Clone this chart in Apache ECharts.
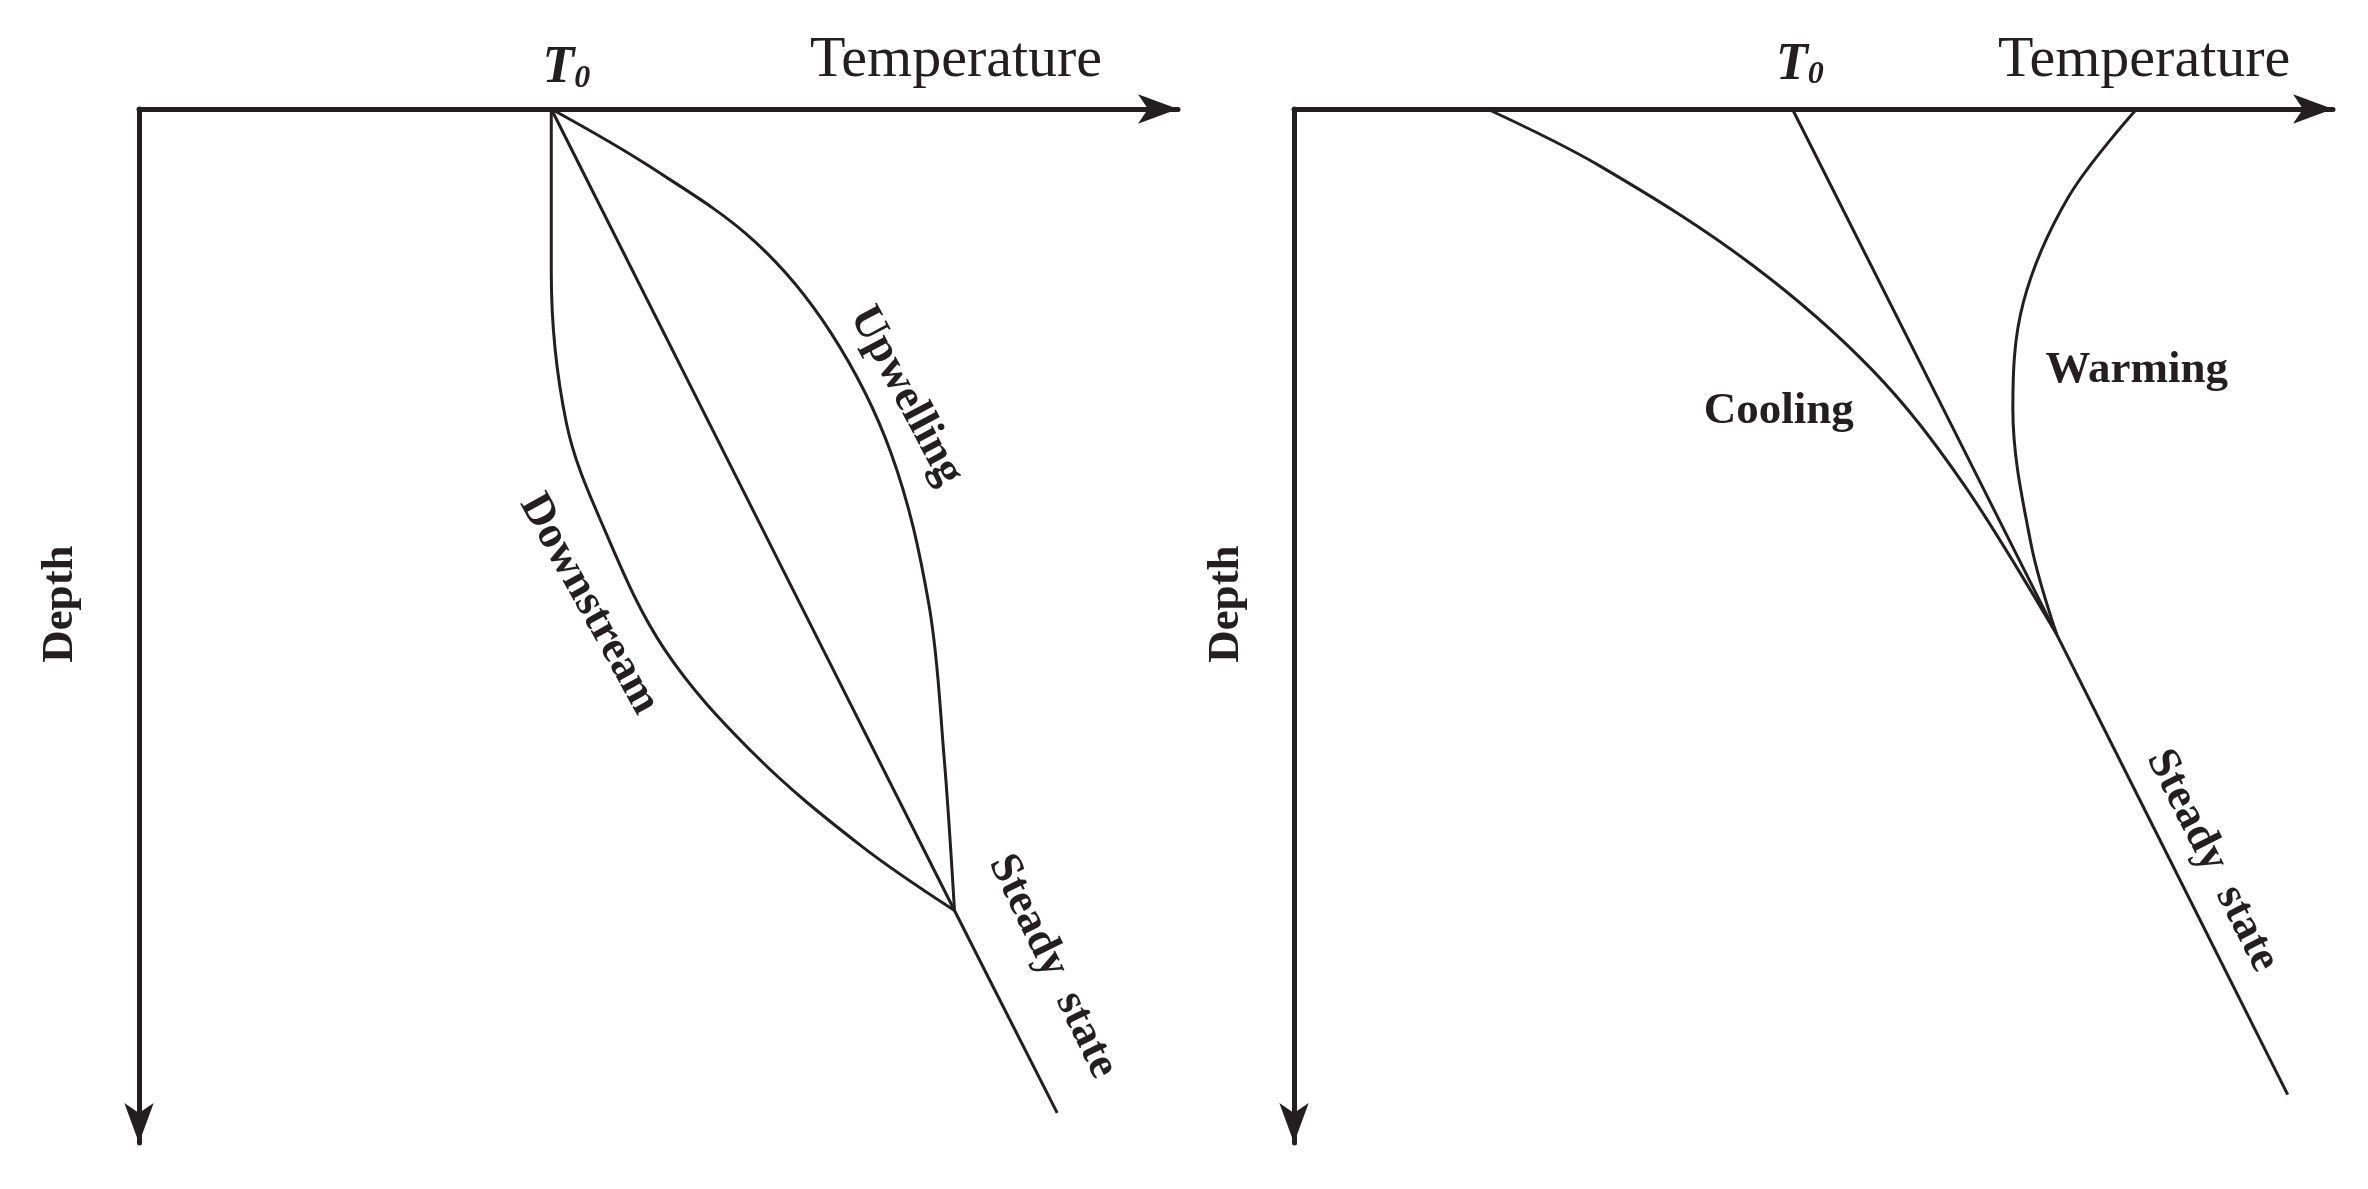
<!DOCTYPE html>
<html><head><meta charset="utf-8">
<script src="https://cdn.jsdelivr.net/npm/echarts@6/dist/echarts.min.js"></script>
<style>html,body{margin:0;background:#fff}#c{width:2368px;height:1189px}</style>
</head><body><div id="c"></div>
<script>
// curves in panel units: [temperature, depth] measured from each panel's origin
const leftSteady = [[273, 0], [540, 531], [608, 665]];
const leftUpwelling = [[273, 0], [338, 38], [408, 88], [458, 148], [498, 228], [523, 328], [533, 428], [540, 531]];
const leftDownstream = [[273, 0], [273, 108], [283, 208], [308, 278], [348, 358], [408, 428], [478, 488], [540, 531]];
const rightSteady = [[330, 0], [505, 348], [658, 653]];
const rightCooling = [[128, 0], [203, 38], [303, 103], [383, 173], [443, 248], [505, 348]];
const rightWarming = [[558, 0], [513, 58], [483, 128], [476, 198], [488, 288], [505, 348]];

const ink = '#231f20';
const serif = 'Liberation Serif';

function axisPair(gi) {
    return {
        x: { type: 'value', gridIndex: gi, position: 'top', min: 0, max: 688, show: true,
            axisLine: { lineStyle: { color: ink, width: 5 }, symbol: ['none', 'arrow'], symbolSize: [22, 40] },
            axisTick: { show: false }, axisLabel: { show: false }, splitLine: { show: false } },
        y: { type: 'value', gridIndex: gi, inverse: true, min: 0, max: 685,
            axisLine: { show: true, lineStyle: { color: ink, width: 5 }, symbol: ['arrow', 'none'], symbolSize: [22, 40] },
            axisTick: { show: false }, axisLabel: { show: false }, splitLine: { show: false } }
    };
}
const a0 = axisPair(0), a1 = axisPair(1);

function curve(data, gi) {
    return { type: 'line', xAxisIndex: gi, yAxisIndex: gi, data: data, smooth: 0.35,
        showSymbol: false, lineStyle: { color: ink, width: 3 }, silent: true };
}

const chart = echarts.init(document.getElementById('c'));
chart.setOption({
    backgroundColor: '#fff',
    animation: false,
    grid: [
        { left: 139, top: 109, width: 1039, height: 1034 },
        { left: 1294, top: 109, width: 1039, height: 1034 }
    ],
    xAxis: [a0.x, a1.x],
    yAxis: [a0.y, a1.y],
    series: [
        curve(leftSteady, 0), curve(leftUpwelling, 0), curve(leftDownstream, 0),
        curve(rightSteady, 1), curve(rightCooling, 1), curve(rightWarming, 1)
    ]
});

// labels: [panel, temperature, depth, text, rotation(deg), bold]
const labels = [
    [0, 541, -32, 'Temperature', 0, false],
    [0, 283, -27, 'T0', 0, true],
    [0, -52, 328, 'Depth', 90, true],
    [0, 508, 190, 'Upwelling', -62, true],
    [0, 298, 328, 'Downstream', -61, true],
    [0, 605, 568, 'Steady  state', -64, true],
    [1, 335, -29, 'T0', 0, true],
    [1, 563, -32, 'Temperature', 0, false],
    [1, -45, 328, 'Depth', 90, true],
    [1, 321, 200, 'Cooling', 0, true],
    [1, 558, 173, 'Warming', 0, true],
    [1, 608, 498, 'Steady  state', -63, true]
];
const graphics = labels.map(function (l) {
    const p = chart.convertToPixel({ gridIndex: l[0] }, [l[1], l[2]]);
    const isT0 = l[3] === 'T0';
    return {
        type: 'text', x: p[0], y: p[1], rotation: l[4] * Math.PI / 180,
        style: {
            text: isT0 ? '{t|T}{s|0}' : l[3],
            rich: { t: { font: 'italic bold 52px "' + serif + '"', fill: ink },
                    s: { font: 'italic bold 32px "' + serif + '"', fill: ink, padding: [20, 0, 0, 0] } },
            font: (l[5] ? 'bold ' : '') + (l[5] ? 45 : 58) + 'px "' + serif + '"',
            fill: ink, align: 'center', verticalAlign: 'middle'
        }
    };
});
chart.setOption({ graphic: graphics });
</script>
</body></html>
